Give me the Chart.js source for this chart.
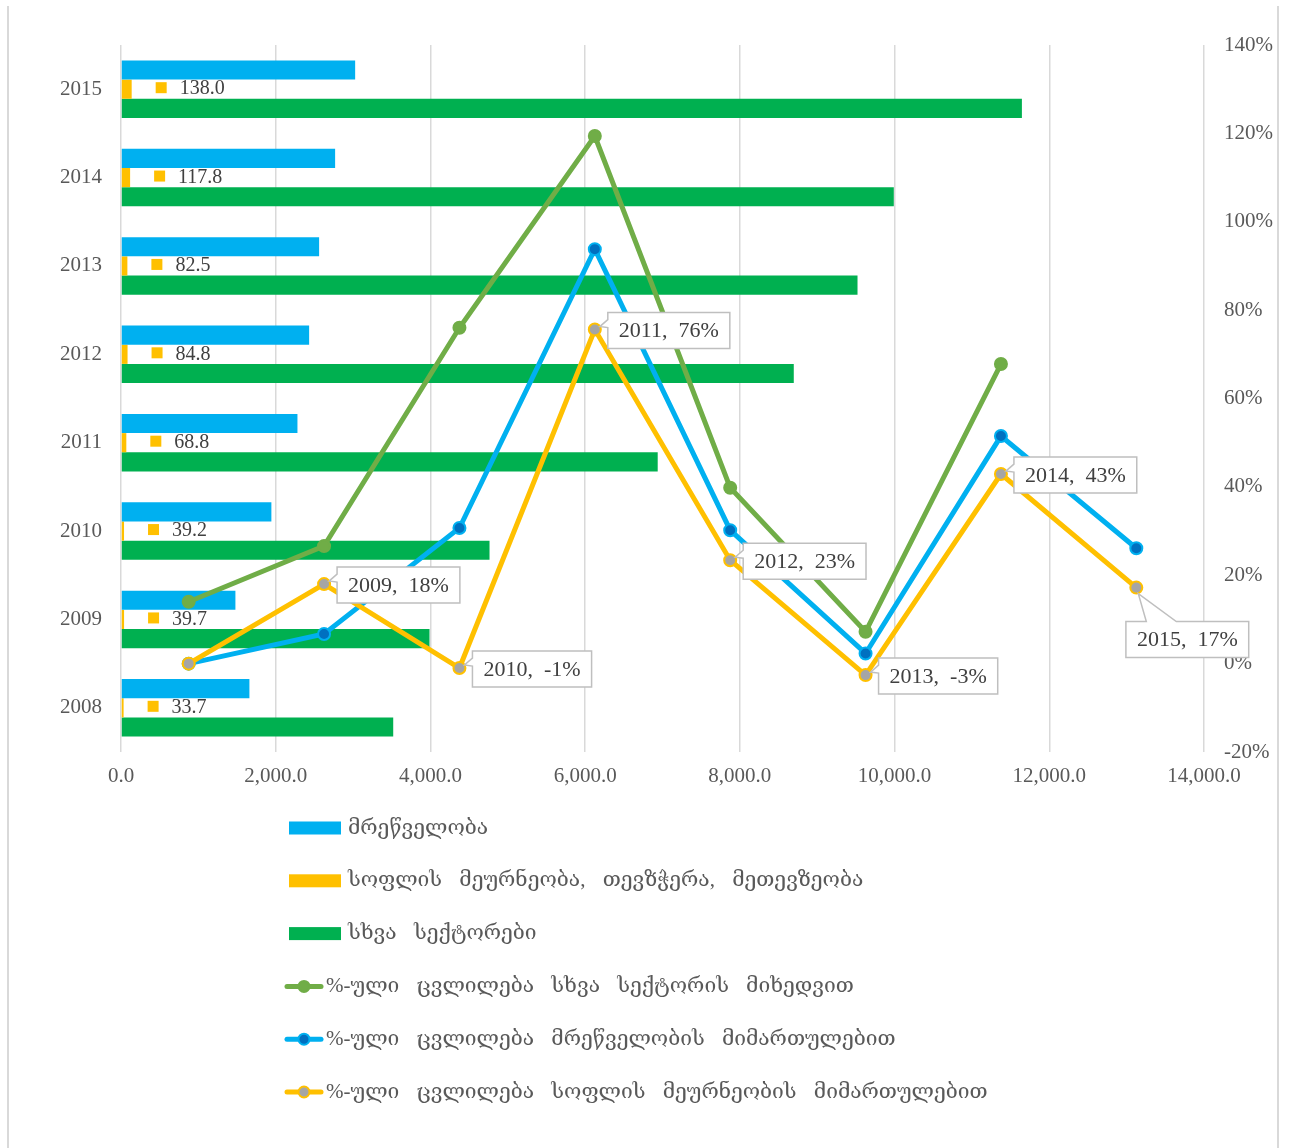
<!DOCTYPE html>
<html>
<head>
<meta charset="utf-8">
<script src="https://cdn.jsdelivr.net/npm/chart.js@4.4.1/dist/chart.umd.min.js"></script>
<style>
  html, body { margin: 0; padding: 0; background: #fff; }
  #wrap { position: relative; width: 1290px; height: 1148px; }
  #wrap div { position: absolute; left: 0; top: 0; width: 1290px; height: 1148px; }
</style>
</head>
<body>
<div id="wrap">
  <div><canvas id="bars"></canvas></div>
  <div><canvas id="lines"></canvas></div>
</div>
<script>
// categories
var years = ['2008', '2009', '2010', '2011', '2012', '2013', '2014', '2015'];

// bar series (left / bottom axes)
var industry = [1660, 1479, 1944, 2281, 2432, 2561, 2768, 3027];
var agriculture = [33.7, 39.7, 39.2, 68.8, 84.8, 82.5, 117.8, 138.0];
var otherSectors = [3519, 3988, 4764, 6938, 8697, 9521, 9990, 11646];

// % change series (right axis)
var otherChange = [14.0, 26.6, 76.0, 119.4, 39.8, 7.2, 67.8, null];
var industryChange = [0, 6.7, 30.7, 93.8, 30.2, 2.3, 51.5, 26.1];
var agriChange = [0, 18.0, -1.0, 75.6, 23.4, -2.6, 42.9, 17.2];

var names = [
    'მრეწველობა',
    'სოფლის მეურნეობა, თევზჭერა, მეთევზეობა',
    'სხვა სექტორები',
    '%-ული ცვლილება სხვა სექტორის მიხედვით',
    '%-ული ცვლილება მრეწველობის მიმართულებით',
    '%-ული ცვლილება სოფლის მეურნეობის მიმართულებით'
];

var serif = '"Liberation Serif", "DejaVu Serif", serif';
var textColor = '#595959';

// plot box shared by both charts
var plotTop = 45, plotBottom = 752, plotLeft = 121, rightAxisWidth = 86;

// frame lines left / right
var framePlugin = {
    id: 'frame',
    beforeDraw: function(chart) {
        var ctx = chart.ctx;
        ctx.save();
        ctx.strokeStyle = '#d9d9d9';
        ctx.lineWidth = 2;
        ctx.beginPath();
        ctx.moveTo(8, 6); ctx.lineTo(8, 1148);
        ctx.moveTo(1278, 6); ctx.lineTo(1278, 1148);
        ctx.stroke();
        ctx.restore();
    }
};

// value labels next to the yellow bars
var barLabelPlugin = {
    id: 'barLabels',
    afterDatasetsDraw: function(chart) {
        var ctx = chart.ctx;
        ctx.save();
        ctx.font = '20px ' + serif;
        ctx.textBaseline = 'middle';
        chart.getDatasetMeta(1).data.forEach(function(bar, i) {
            ctx.fillStyle = '#FFC000';
            ctx.fillRect(bar.x + 24, bar.y - 7, 11, 11);
            ctx.fillStyle = '#404040';
            ctx.fillText(agriculture[i].toFixed(1), bar.x + 48, bar.y);
        });
        ctx.restore();
    }
};

// callouts on the yellow line
var calloutPlugin = {
    id: 'callouts',
    afterDatasetsDraw: function(chart) {
        var ctx = chart.ctx;
        ctx.save();
        ctx.font = '22px ' + serif;
        ctx.textBaseline = 'middle';
        chart.getDatasetMeta(2).data.forEach(function(pt, i) {
            if (i === 0) return;
            var txt = years[i] + ',  ' + Math.round(agriChange[i]) + '%';
            var w = ctx.measureText(txt).width + 22;
            var h = 36;
            var bx, by;
            ctx.beginPath();
            if (i === years.length - 1) {
                bx = pt.x + 51 - w / 2;
                by = pt.y + 34;
                ctx.moveTo(bx, by);
                ctx.lineTo(pt.x + 10, by);
                ctx.lineTo(pt.x + 2, pt.y + 6);
                ctx.lineTo(pt.x + 40, by);
                ctx.lineTo(bx + w, by);
                ctx.lineTo(bx + w, by + h);
                ctx.lineTo(bx, by + h);
                ctx.closePath();
            } else {
                bx = pt.x + 13;
                by = pt.y - 17;
                ctx.moveTo(bx, by);
                ctx.lineTo(bx + w, by);
                ctx.lineTo(bx + w, by + h);
                ctx.lineTo(bx, by + h);
                ctx.lineTo(bx, pt.y - 2);
                ctx.lineTo(pt.x + 5, pt.y - 3);
                ctx.lineTo(bx, pt.y - 10);
                ctx.closePath();
            }
            ctx.fillStyle = '#ffffff';
            ctx.fill();
            ctx.strokeStyle = '#bfbfbf';
            ctx.lineWidth = 1.5;
            ctx.stroke();
            ctx.fillStyle = '#404040';
            ctx.fillText(txt, bx + 11, by + h / 2 + 1);
        });
        ctx.restore();
    }
};

// one legend entry per row under the plot
function drawLegend(ctx, items) {
    ctx.save();
    ctx.font = '21px ' + serif;
    ctx.textBaseline = 'middle';
    if ('wordSpacing' in ctx) ctx.wordSpacing = '12px';
    items.forEach(function(ds, i) {
        var y = 828 + i * 52.8;
        if (ds.type === 'line') {
            ctx.strokeStyle = ds.borderColor;
            ctx.lineWidth = 5;
            ctx.lineCap = 'round';
            ctx.beginPath();
            ctx.moveTo(287, y); ctx.lineTo(321, y);
            ctx.stroke();
            ctx.beginPath();
            ctx.arc(304, y, 5.5, 0, Math.PI * 2);
            ctx.fillStyle = ds.pointBackgroundColor;
            ctx.fill();
            ctx.lineWidth = 2;
            ctx.strokeStyle = ds.pointBorderColor;
            ctx.stroke();
            ctx.fillStyle = textColor;
            ctx.fillText(ds.label, 326, y);
        } else {
            ctx.fillStyle = ds.backgroundColor;
            ctx.fillRect(289, y - 6.5, 52, 13);
            ctx.fillStyle = textColor;
            ctx.fillText(ds.label, 348, y);
        }
    });
    ctx.restore();
}

var legendPlugin = {
    id: 'rowLegend',
    afterDraw: function(chart) {
        drawLegend(chart.ctx, barChart.data.datasets.concat(chart.data.datasets));
    }
};

// ---- chart 1: horizontal bars ----
var ctx1 = document.getElementById('bars').getContext('2d');
var barChart = new Chart(ctx1, {
    type: 'bar',
    data: {
        labels: years,
        datasets: [{
            label: names[0],
            data: industry,
            backgroundColor: '#00B0F0'
        },
        {
            label: names[1],
            data: agriculture,
            backgroundColor: '#FFC000'
        },
        {
            label: names[2],
            data: otherSectors,
            backgroundColor: '#00B050'
        }]
    },
    options: {
        indexAxis: 'y',
        responsive: true,
        maintainAspectRatio: false,
        animation: false,
        datasets: {
            bar: { barPercentage: 1, categoryPercentage: 0.65 }
        },
        layout: {
            padding: { left: 0, right: rightAxisWidth, top: plotTop, bottom: 1148 - plotBottom - 50 }
        },
        plugins: {
            legend: { display: false },
            tooltip: { enabled: false }
        },
        scales: {
            x: {
                min: 0,
                max: 14000,
                afterFit: function(scale) { scale.height = 50; },
                ticks: {
                    stepSize: 2000,
                    padding: 12,
                    color: textColor,
                    font: { family: serif, size: 21 },
                    callback: function(value) {
                        return value.toLocaleString('en-US', { minimumFractionDigits: 1, maximumFractionDigits: 1 });
                    }
                },
                grid: {
                    color: '#d9d9d9',
                    lineWidth: 1.5,
                    drawTicks: false
                },
                border: { display: false }
            },
            y: {
                reverse: true,
                afterFit: function(scale) { scale.width = plotLeft; },
                ticks: {
                    padding: 19,
                    color: textColor,
                    font: { family: serif, size: 21 }
                },
                grid: { display: false, drawTicks: false },
                border: { display: false }
            }
        }
    },
    plugins: [framePlugin, barLabelPlugin]
});

// ---- chart 2: % change lines on the right axis ----
var lineStyle = {
    borderWidth: 5,
    pointRadius: 6,
    pointBorderWidth: 2,
    tension: 0
};

var ctx2 = document.getElementById('lines').getContext('2d');
var lineChart = new Chart(ctx2, {
    type: 'line',
    data: {
        labels: years,
        datasets: [
        Object.assign({
            type: 'line',
            label: names[3],
            data: otherChange,
            borderColor: '#70AD47',
            pointBackgroundColor: '#70AD47',
            pointBorderColor: '#70AD47',
            order: 3
        }, lineStyle),
        Object.assign({
            type: 'line',
            label: names[4],
            data: industryChange,
            borderColor: '#00B0F0',
            pointBackgroundColor: '#0070C0',
            pointBorderColor: '#00B0F0',
            order: 2
        }, lineStyle),
        Object.assign({
            type: 'line',
            label: names[5],
            data: agriChange,
            borderColor: '#FFC000',
            pointBackgroundColor: '#A5A5A5',
            pointBorderColor: '#FFC000',
            order: 1
        }, lineStyle)]
    },
    options: {
        responsive: true,
        maintainAspectRatio: false,
        animation: false,
        layout: {
            padding: { left: plotLeft, right: 0, top: plotTop, bottom: 1148 - plotBottom }
        },
        plugins: {
            legend: { display: false },
            tooltip: { enabled: false }
        },
        scales: {
            x: {
                offset: true,
                display: false
            },
            y: {
                position: 'right',
                min: -20,
                max: 140,
                afterFit: function(scale) { scale.width = rightAxisWidth; },
                ticks: {
                    stepSize: 20,
                    padding: 20,
                    color: textColor,
                    font: { family: serif, size: 21 },
                    callback: function(value) { return value + '%'; }
                },
                grid: { display: false, drawTicks: false },
                border: { display: false }
            }
        }
    },
    plugins: [calloutPlugin, legendPlugin]
});
</script>
</body>
</html>
